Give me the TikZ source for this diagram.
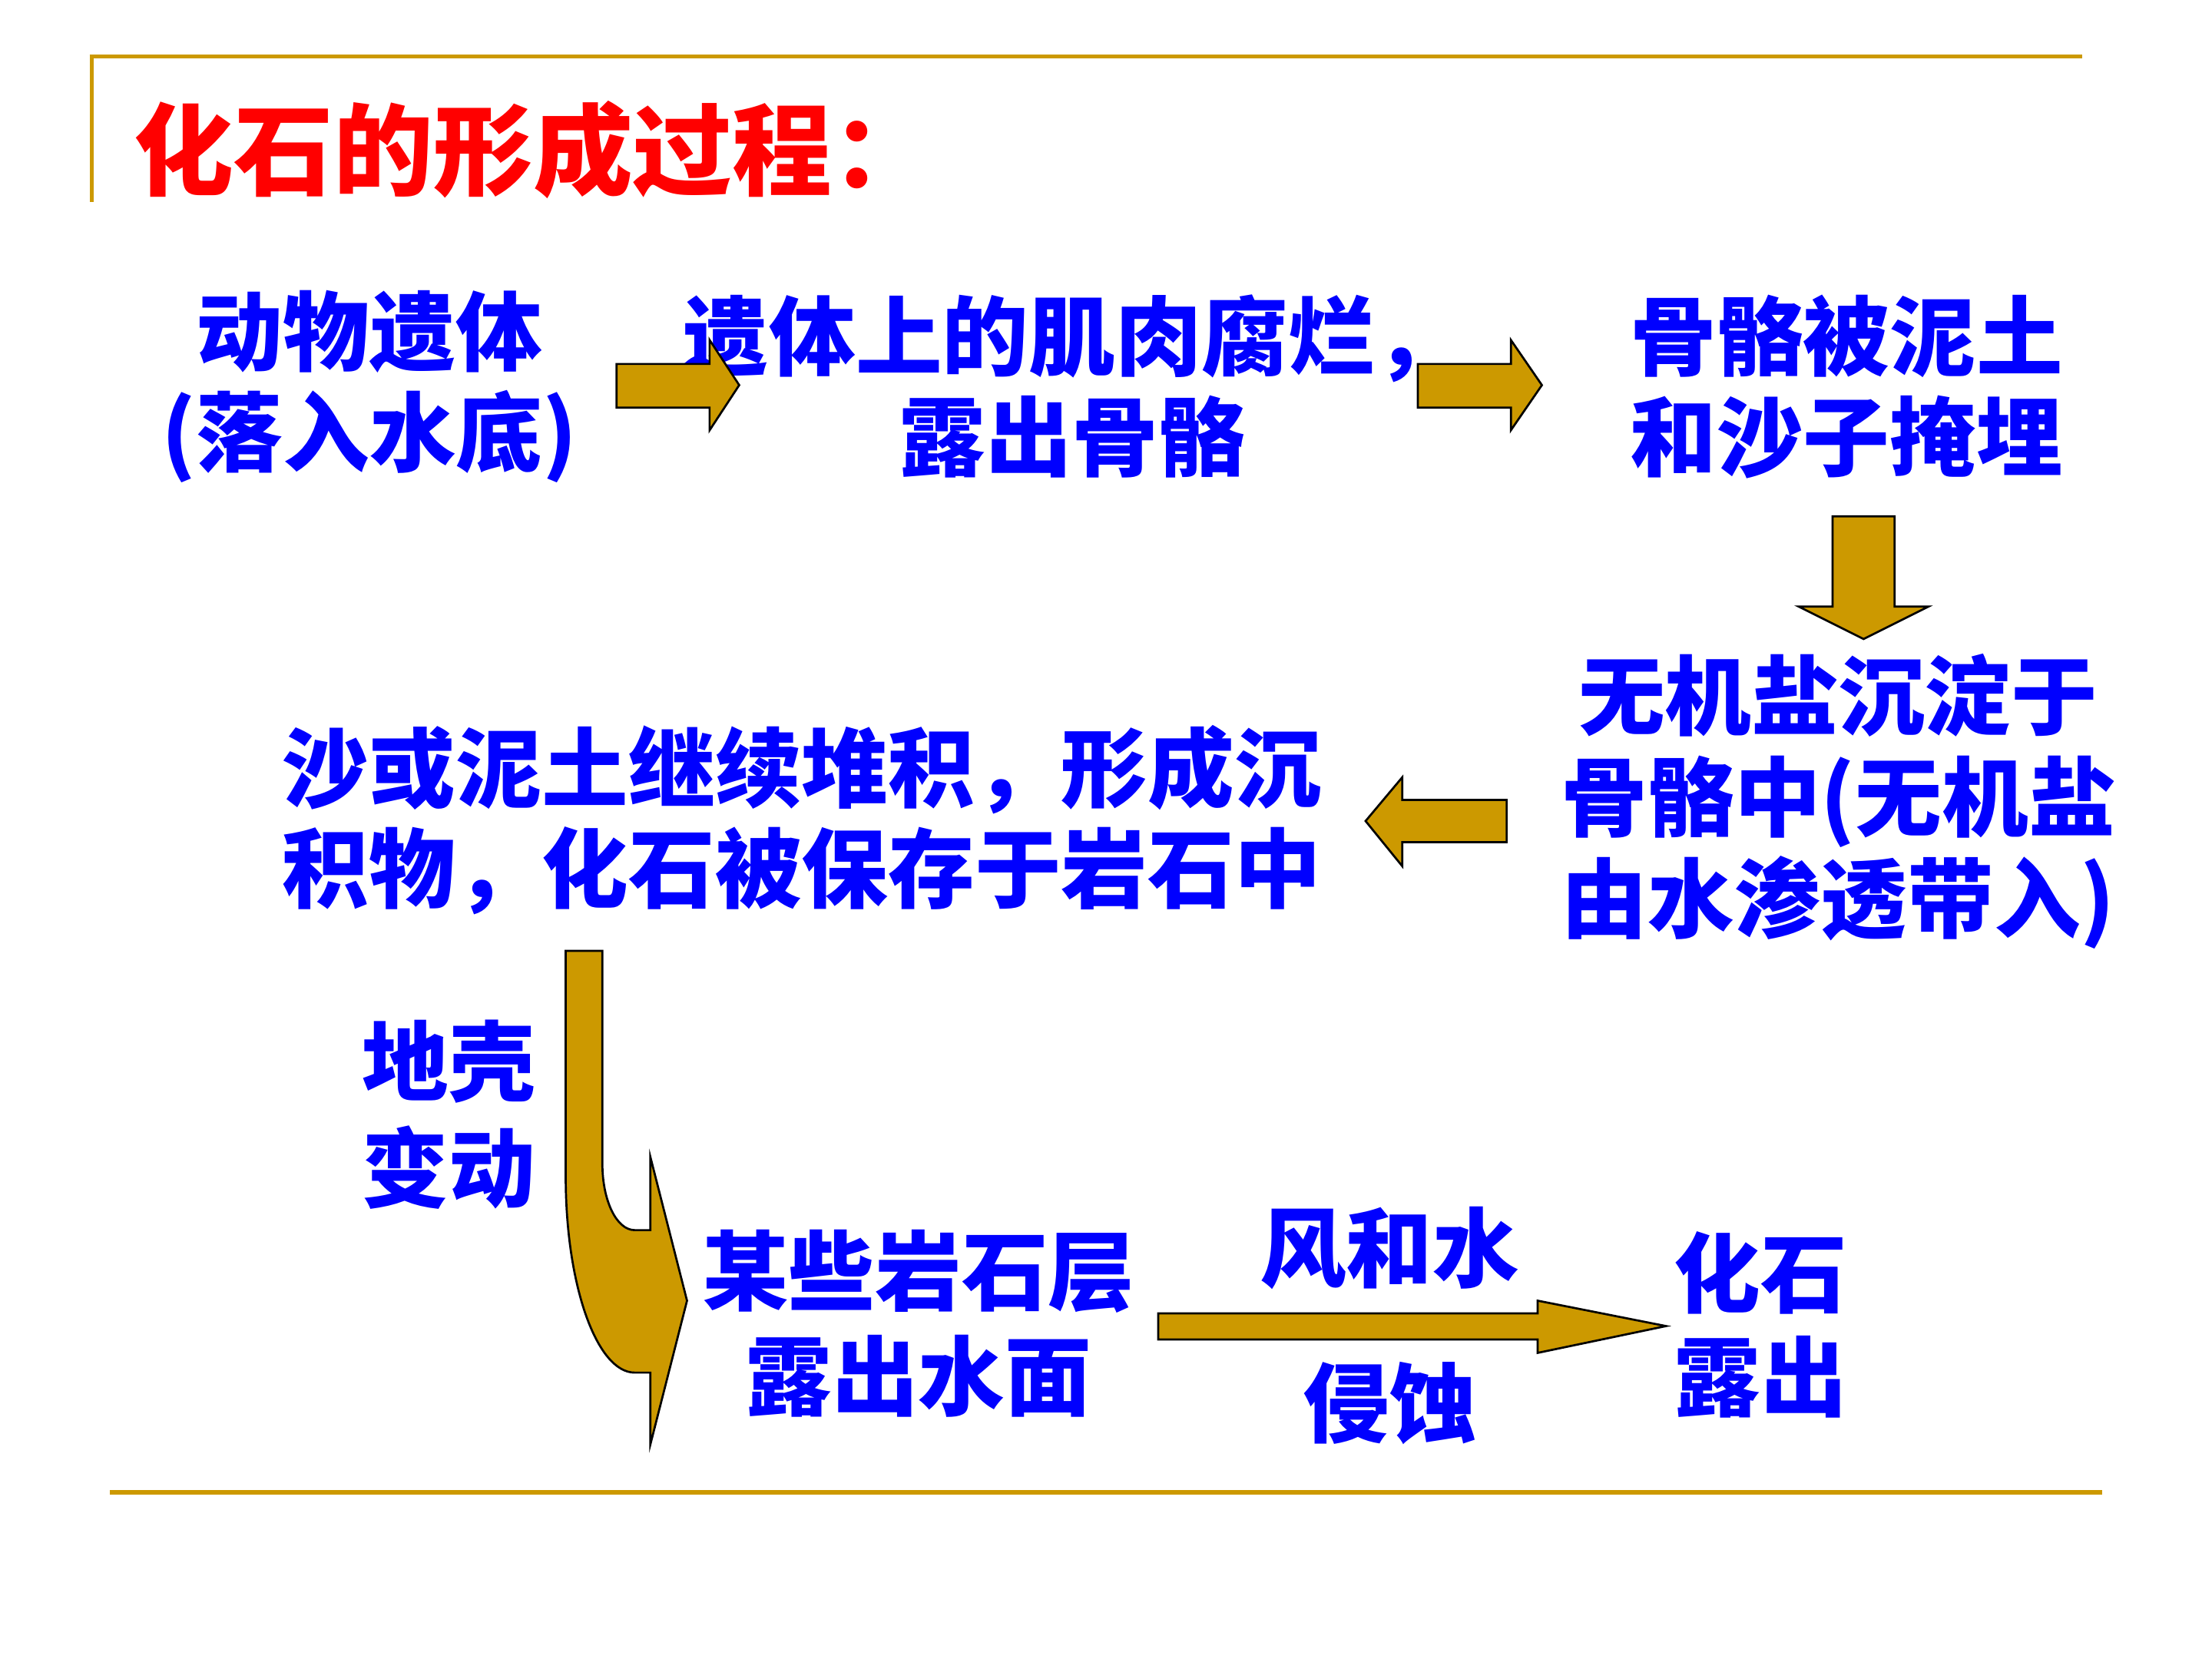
\documentclass[tikz,border=0pt]{standalone}
\usepackage{fontspec}
\newfontfamily\cjk{Noto Sans CJK SC}
\usepackage{xcolor}
\usepackage{tikz}

\definecolor{gold}{RGB}{204,153,0}
\definecolor{stageblue}{RGB}{0,0,255}

\begin{document}
\begin{tikzpicture}[x=0.75pt,y=0.75pt,yscale=-1,xscale=1,
  stage/.style={inner sep=0pt,align=center,text=stageblue,font=\cjk\bfseries\fontsize{46}{53.5}\selectfont},
  blockarrow/.style={draw=black,fill=gold,line width=1.1pt,line join=miter},
  framerule/.style={draw=gold,line width=2.3pt}]
\useasboundingbox (0,0) rectangle (1568,1176);

%Frame Lines
\draw [framerule]  (63.5,40) -- (1476,40) ;
\draw [framerule]  (65,40) -- (65,143) ;
\draw [framerule]  (78,1058) -- (1490,1058) ;

% Title Node
\node [anchor=west,inner sep=0pt,text=red,font=\cjk\bfseries\fontsize{53}{60}\selectfont] (title) at (95,106) {化石的形成过程：};

% Text Node
\node [stage] (remains) at (262,274) {动物遗体\\(落入水底)};
% Text Node
\node [stage] (decay) at (760,274) {遗体上的肌肉腐烂，\\露出骨骼};
% Text Node
\node [stage] (buried) at (1309,274) {骨骼被泥土\\和沙子掩埋};
% Text Node
\node [stage,font=\cjk\bfseries\fontsize{46}{54}\selectfont] (minerals) at (1303,568) {无机盐沉淀于\\骨骼中(无机盐\\由水渗透带入)};
% Text Node
\node [stage,align=left,anchor=west] (sediment) at (200,581) {沙或泥土继续堆积，形成沉\\积物，化石被保存于岩石中};
% Text Node
\node [stage,font=\cjk\bfseries\fontsize{46}{57}\selectfont] (crust) at (318,790) {地壳\\变动};
% Text Node
\node [stage,font=\cjk\bfseries\fontsize{46}{56}\selectfont] (exposed) at (651,938) {某些岩石层\\露出水面};
% Text Node
\node [stage,font=\cjk\bfseries\fontsize{46}{55}\selectfont] (fossil) at (1248,939) {化石\\露出};
% Text Node
\node [stage] (wind) at (985,885) {风和水};
% Text Node
\node [stage] (erosion) at (985,995) {侵蚀};

%Right Arrow
\draw [blockarrow]  (437,258) -- (503,258) -- (503,241) -- (524,273) -- (503,305) -- (503,289) -- (437,289) -- cycle ;
%Right Arrow
\draw [blockarrow]  (1005,258) -- (1071,258) -- (1071,241) -- (1093,273) -- (1071,305) -- (1071,289) -- (1005,289) -- cycle ;
%Down Arrow
\draw [blockarrow]  (1299,366) -- (1343,366) -- (1343,430) -- (1367,430) -- (1321,453) -- (1275,430) -- (1299,430) -- cycle ;
%Left Arrow
\draw [blockarrow]  (1068,567) -- (994,567) -- (994,551) -- (968,582) -- (994,614) -- (994,597) -- (1068,597) -- cycle ;
%Curved Arrow
\draw [blockarrow]  (401,674) -- (427,674) -- (427,825) .. controls (427,851) and (437,872) .. (450,872) -- (461,872) -- (461,820) -- (487,922) -- (461,1024) -- (461,973) -- (450,973) .. controls (423,973) and (401,911) .. (401,834) -- cycle ;
%Right Arrow
\draw [blockarrow]  (821,931) -- (1090,931) -- (1090,922) -- (1181,940) -- (1090,959) -- (1090,949.5) -- (821,949.5) -- cycle ;
\end{tikzpicture}
\end{document}
